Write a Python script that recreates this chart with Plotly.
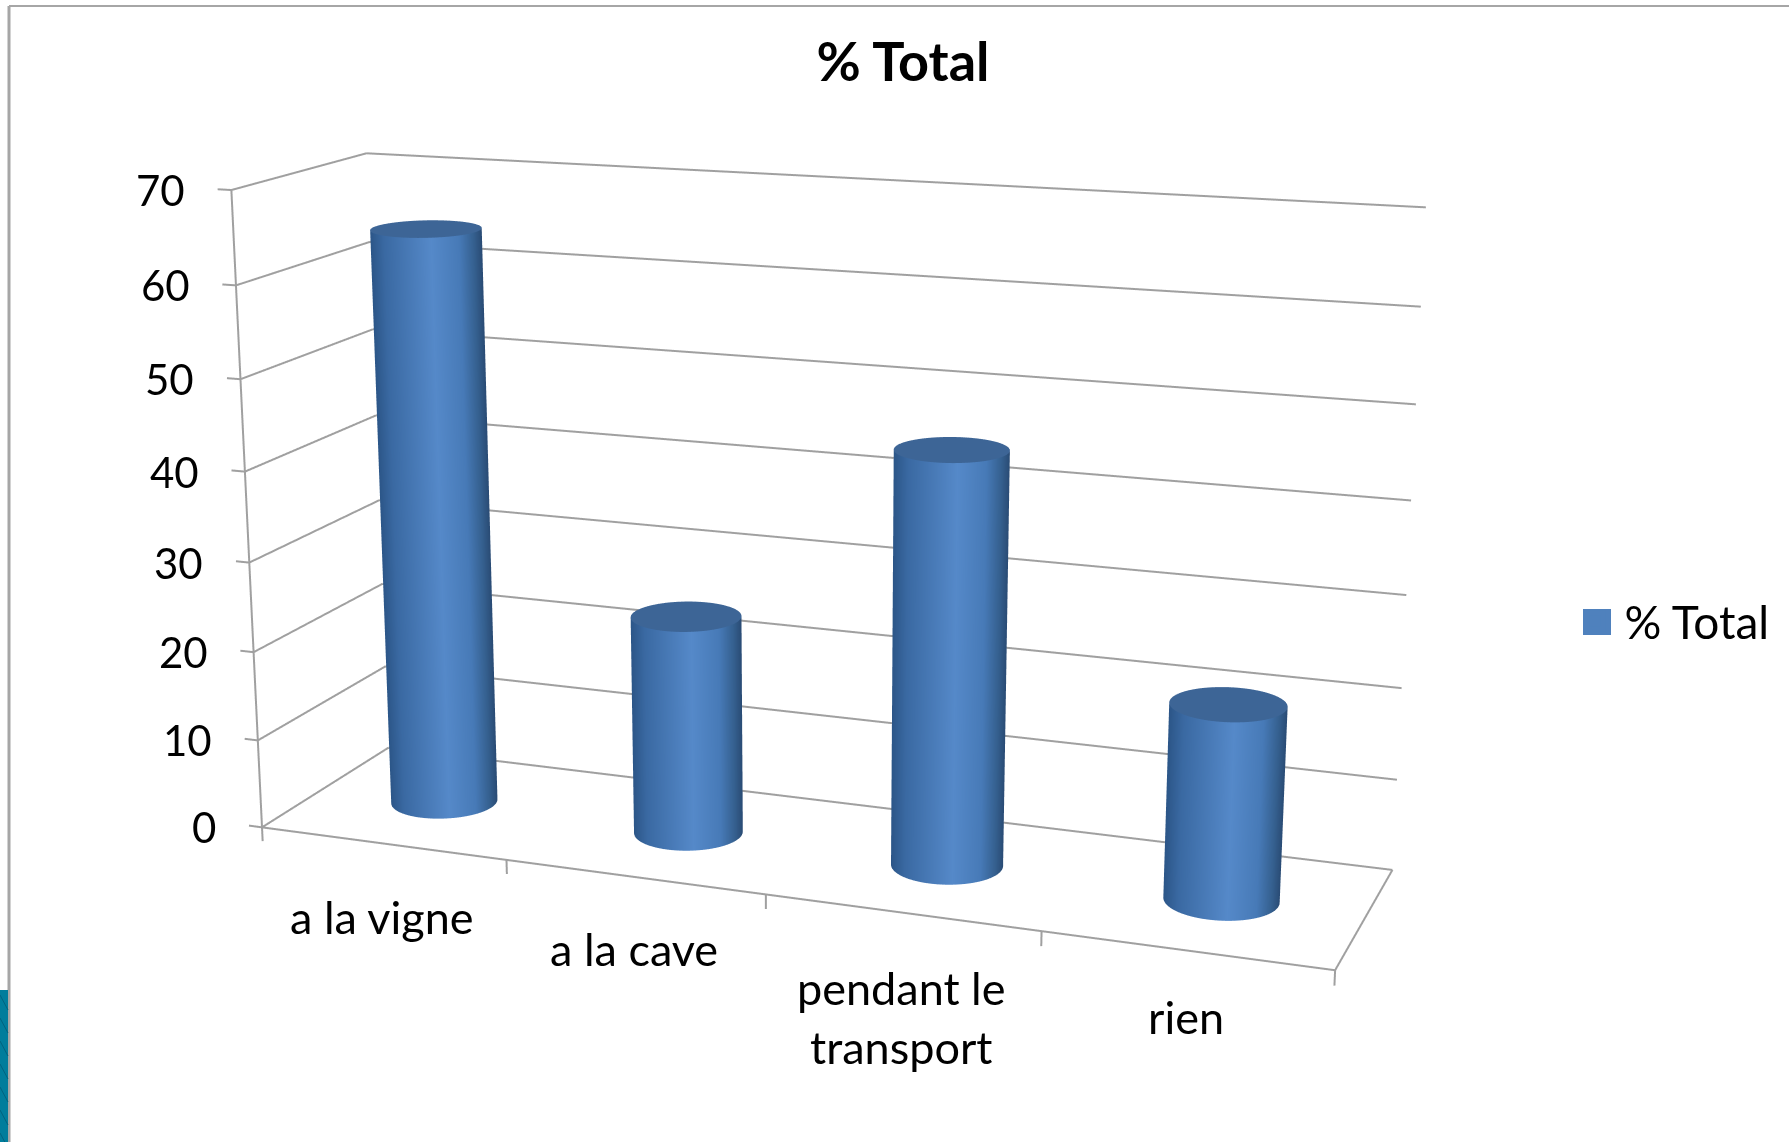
import numpy as np
import plotly.graph_objects as go

categories = ["a la vigne", "a la cave", "pendant le<br>transport", "rien"]
values = [64.5, 24.4, 45, 21]
series_name = "% Total"
z_levels = [0, 10, 20, 30, 40, 50, 60, 70]
label_drop = [45, 43, 46, 38]

W, H = 1789, 1142
# Oblique view of the chart box: category / depth / value -> page pixel
P = np.array([229.960242, 155.578618, -0.611122, 262.004215,
              7.876422, -23.289541, -9.246877, 827.342074,
              -0.028699, 0.075296, -0.00075, 1.0]).reshape(3, 4)
def image(X, Y, Z):
    h = P@np.array([X, Y, Z, 1.0])
    return h[0]/h[2], h[1]/h[2]

# Realise that view in plotly's fixed-FOV camera; z stays the literal value
F = (H/2)/np.tan(np.pi/8)
K = np.array([[F, 0, W/2], [0, -F, H/2], [0, 0, 1.0]])
Mc = np.linalg.inv(K)@P
A, b = Mc[:, :3], Mc[:, 3]
depth = (A@np.array([2, .5, 35])+b)[2]
lam = 3.0/depth
r3 = np.linalg.inv(A).T@np.array([0, 0, 1.0]); r3 = r3/np.linalg.norm(r3)
if r3@A[:, 2] < 0:
    r3 = -r3
r1 = np.array([1.0, 0, 0]); r1 = r1-(r1@r3)*r3; r1 = r1/np.linalg.norm(r1)
r2 = np.cross(r1, r3)
ZR = [-5, 75]
zmid = sum(ZR)/2
zk = lam*(r3@A[:, 2])
eye = np.array([0.0, 0.0, -lam*(r3@b)-zk*zmid])
right, upv, fwd = np.array([r1, r2, r3]).T
wx = np.vectorize(lambda X, Y, Z: lam*r1@(A@np.array([X, Y, Z])+b))
wy = np.vectorize(lambda X, Y, Z: lam*r2@(A@np.array([X, Y, Z])+b))

fig = go.Figure()
GRID = "#a0a0a0"
lx, ly, lz = [], [], []
def seg(a, c):
    for q in (a, c):
        lx.append(float(wx(*q))); ly.append(float(wy(*q))); lz.append(q[2])
    lx.append(None); ly.append(None); lz.append(None)
n = len(categories)
for v in z_levels:
    seg((0,0,v),(0,1,v)); seg((0,1,v),(n,1,v)); seg((-0.055,0,v),(0,0,v))
seg((0,0,0),(0,0,z_levels[-1]))
seg((0,0,0),(n,0,0)); seg((n,0,0),(n,1,0))
for i in range(n+1):
    seg((i,0,0),(i,0,-1.6))
fig.add_trace(go.Scatter3d(x=lx, y=ly, z=lz, mode="lines", line=dict(color=GRID, width=4), showlegend=False, hoverinfo="skip"))

scale = [[0,"#2c5688"],[0.12,"#3a69a2"],[0.55,"#5589c9"],[0.8,"#477ab7"],[0.93,"#35608f"],[1,"#2a4c75"]]
th = np.linspace(0, 2*np.pi, 181)
lighting = dict(ambient=1, diffuse=0, specular=0, roughness=1, fresnel=0)
RAD = 0.2
for i, val in enumerate(values):
    xs = i+.5+RAD*np.cos(th)
    ys = .5+RAD*np.sin(th)
    u = np.array([image(a, c, 0)[0] for a, c in zip(xs, ys)])
    t = 2*(u-u.min())/(u.max()-u.min())-1
    Xb, Yb = np.vstack([xs, xs]), np.vstack([ys, ys])
    Zb = np.vstack([0*xs, 0*xs+val])
    fig.add_trace(go.Surface(x=wx(Xb, Yb, Zb), y=wy(Xb, Yb, Zb), z=Zb, surfacecolor=np.vstack([t, t]), cmin=-1, cmax=1,
                             colorscale=scale, showscale=False, lighting=lighting, hoverinfo="skip"))
    rr = np.array([0, 1.0])
    X2 = i+.5+np.outer(rr, RAD*np.cos(th)); Y2 = .5+np.outer(rr, RAD*np.sin(th)); Z2 = 0*X2+val
    fig.add_trace(go.Surface(x=wx(X2, Y2, Z2), y=wy(X2, Y2, Z2), z=Z2, surfacecolor=0*X2, cmin=0, cmax=1,
                             colorscale=[[0,"#3d6596"],[1,"#3d6596"]], showscale=False, lighting=lighting, hoverinfo="skip"))

fig.add_trace(go.Scatter3d(x=[None], y=[None], z=[None], mode="markers", name=series_name, showlegend=True,
                           marker=dict(symbol="square", size=16, color="#4f81bd", line=dict(color="#4f81bd", width=5))))

FONT = "Lato"
anns = []
for v in z_levels:
    anns.append(dict(x=float(wx(0,0,v)), y=float(wy(0,0,v)), z=v, text=str(v), showarrow=False, xanchor="right", yanchor="middle", xshift=-44,
                     font=dict(family=FONT, size=42, color="#000")))
for i, cat in enumerate(categories):
    anns.append(dict(x=float(wx(i+.5,0,0)), y=float(wy(i+.5,0,0)), z=0, text=cat, showarrow=False, xanchor="center", yanchor="top", yshift=-label_drop[i],
                     font=dict(family=FONT, size=45, color="#000")))

shapes = [
    dict(type="line", xref="paper", yref="paper", x0=9/W, x1=1, y0=1-6/H, y1=1-6/H, line=dict(color="#a6a6a6", width=2)),
    dict(type="line", xref="paper", yref="paper", x0=9/W, x1=9/W, y0=0, y1=1-6/H, line=dict(color="#a6a6a6", width=3)),
    dict(type="rect", xref="paper", yref="paper", x0=0, x1=8/W, y0=0, y1=1-990/H, fillcolor="#007d9c", line=dict(width=0)),
    dict(type="rect", xref="paper", yref="paper", x0=1583/W, x1=1611/W, y0=1-635/H, y1=1-609/H, fillcolor="#4f81bd", line=dict(width=0)),
]
for k in range(7):
    y0 = 995+k*23
    shapes.append(dict(type="line", xref="paper", yref="paper", x0=0, x1=8/W, y0=1-y0/H, y1=1-(y0+15)/H, line=dict(color="#00637f", width=1)))

RX = 6.0
fig.update_layout(
    width=W, height=H, margin=dict(l=0, r=0, t=0, b=0), paper_bgcolor="white",
    title=dict(text="<b>% Total</b>", x=903/W, y=1-62/H, xanchor="center", yanchor="middle",
               font=dict(family=FONT, size=54, color="#000")),
    legend=dict(x=1565.5/W, y=1-621/H, xanchor="left", yanchor="middle", itemwidth=49, font=dict(family=FONT, size=46, color="#000"),
                bgcolor="rgba(0,0,0,0)"),
    shapes=shapes,
    scene=dict(
        domain=dict(x=[0, 1], y=[0, 1]),
        xaxis=dict(visible=False, range=[-RX, RX]), yaxis=dict(visible=False, range=[-RX, RX]), zaxis=dict(visible=False, range=ZR),
        aspectmode="manual",
        aspectratio=dict(x=2*RX, y=2*RX, z=float(zk*(ZR[1]-ZR[0]))),
        camera=dict(eye=dict(x=float(eye[0]), y=float(eye[1]), z=float(eye[2])),
                    center=dict(x=float(eye[0]+fwd[0]), y=float(eye[1]+fwd[1]), z=float(eye[2]+fwd[2])),
                    up=dict(x=float(upv[0]), y=float(upv[1]), z=float(upv[2])),
                    projection=dict(type="perspective")),
        annotations=anns,
        bgcolor="white",
    ),
)
fig.write_html("out.html", config=dict(displayModeBar=False), post_script="document.body.style.margin='0';document.body.style.overflow='hidden';")
